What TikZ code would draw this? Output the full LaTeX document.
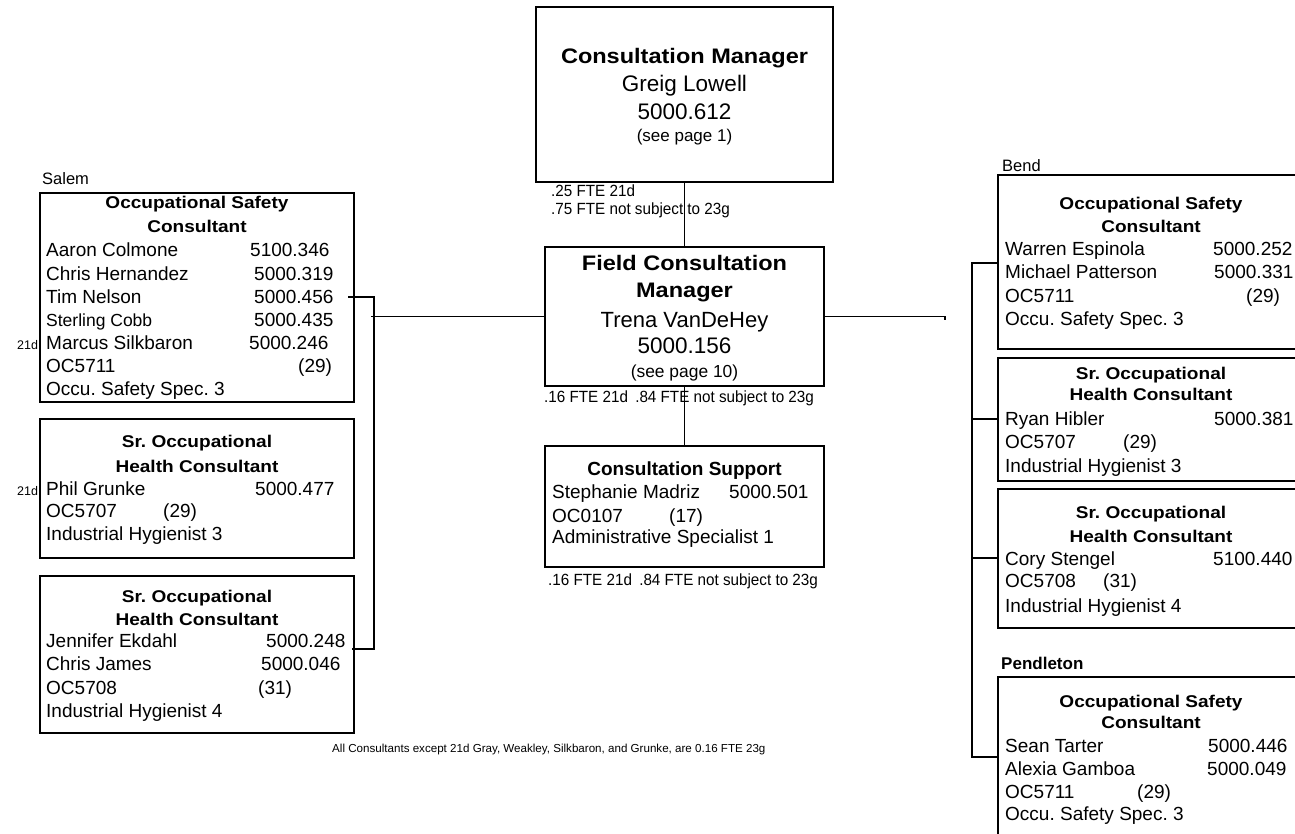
\documentclass[tikz,border=0pt]{standalone}
\usepackage{fontspec}
\setmainfont{Liberation Sans}
% slightly widened face for the bold box headings, slightly narrowed one for the FTE notes
\newfontfamily\widehead[FakeStretch=1.12]{Liberation Sans}
\newfontfamily\narrownote[FakeStretch=0.94]{Liberation Sans}
\newcommand\myfs[1]{\fontsize{#1pt}{#1pt}\selectfont}
\frenchspacing
\tikzset{
  orgbox/.style={draw, line width=1.5pt, rectangle, inner sep=0pt, outer sep=0pt, anchor=north west},
  lbl/.style={anchor=base west, inner sep=0pt, font=\myfs{19}},
  ttl/.style={anchor=base, inner sep=0pt, font=\widehead\myfs{17}\bfseries},
  note/.style={anchor=base west, inner sep=0pt, font=\narrownote\myfs{16.2}},
  mid/.style={anchor=base, inner sep=0pt},
  wire/.style={line width=1.3pt},
}
\begin{document}
\begin{tikzpicture}[x=1pt,y=-1pt]
\useasboundingbox (0,0) rectangle (1295,834);
\fill[white] (0,0) rectangle (1295,834);
\clip (0,0) rectangle (1295,834);

% ---------- centre column ----------
\node[orgbox, minimum width=297pt, minimum height=175pt] (top) at (536,7) {};
\node[mid, font=\widehead\myfs{21}\bfseries] (topa) at (684.5,64) {Consultation Manager};
\node[mid, font=\myfs{22.5}] (topb) at (684.5,92) {Greig Lowell};
\node[mid, font=\myfs{22.5}] (topc) at (684.5,120) {5000.612};
\node[mid, font=\myfs{17}] (topd) at (684.5,142) {(see page 1)};
\node[note] (topn1) at (551,197) {.25 FTE 21d};
\node[note] (topn2) at (551,215) {.75 FTE not subject to 23g};

\node[orgbox, minimum width=279pt, minimum height=139pt] (field) at (545,247) {};
\node[mid, font=\widehead\myfs{21}\bfseries] (fa) at (684.5,270) {Field Consultation};
\node[mid, font=\widehead\myfs{21}\bfseries] (fb) at (684.5,298) {Manager};
\node[mid, font=\myfs{22}] (fc) at (684.5,327) {Trena VanDeHey};
\node[mid, font=\myfs{22.5}] (fd) at (684.5,353) {5000.156};
\node[mid, font=\myfs{17.4}] (fe) at (684.5,377) {(see page 10)};
\node[note] (fn) at (544,402) {.16 FTE 21d\hspace{0.45em}.84 FTE not subject to 23g};

\node[orgbox, minimum width=279pt, minimum height=121pt] (support) at (545,446) {};
\node[mid, font=\myfs{19}\bfseries] (sa) at (684.5,475) {Consultation Support};
\node[lbl] (sb) at (552,498) {Stephanie Madriz};
\node[lbl] (sbv) at (729,498) {5000.501};
\node[lbl] (sc) at (552,522) {OC0107};
\node[lbl] (scv) at (669,522) {(17)};
\node[lbl] (sd) at (552,543) {Administrative Specialist 1};
\node[note] (sn) at (548,585) {.16 FTE 21d\hspace{0.45em}.84 FTE not subject to 23g};

\draw[wire] (top.south) -- (field.north);
\draw[wire] (field.south) -- (support.north);

% ---------- Salem ----------
\node[lbl, font=\myfs{16.5}] (salem) at (42,185) {Salem};
\node[orgbox, minimum width=314pt, minimum height=209pt] (l1) at (40,193) {};
\node[ttl] (l1a) at (197,209) {Occupational Safety};
\node[ttl] (l1b) at (197,233) {Consultant};
\node[lbl] (l1r1) at (46,257) {Aaron Colmone};      \node[lbl] (l1v1) at (250,257) {5100.346};
\node[lbl] (l1r2) at (46,280) {Chris Hernandez};    \node[lbl] (l1v2) at (254,280) {5000.319};
\node[lbl] (l1r3) at (46,303) {Tim Nelson};         \node[lbl] (l1v3) at (254,303) {5000.456};
\node[lbl, font=\myfs{17.5}] (l1r4) at (46,326) {Sterling Cobb}; \node[lbl] (l1v4) at (254,326) {5000.435};
\node[lbl] (l1r5) at (46,349) {Marcus Silkbaron};   \node[lbl] (l1v5) at (249,349) {5000.246};
\node[lbl] (l1r6) at (46,372) {OC5711};             \node[lbl] (l1v6) at (298,372) {(29)};
\node[lbl] (l1r7) at (46,395) {Occu. Safety Spec. 3};
\node[lbl, font=\myfs{12.5}] (l1d) at (17,349) {21d};

\node[orgbox, minimum width=314pt, minimum height=139pt] (l2) at (40,419) {};
\node[ttl] (l2a) at (197,447) {Sr. Occupational};
\node[ttl] (l2b) at (197,472) {Health Consultant};
\node[lbl] (l2r1) at (46,495) {Phil Grunke};        \node[lbl] (l2v1) at (255,495) {5000.477};
\node[lbl] (l2r2) at (46,517) {OC5707};             \node[lbl] (l2v2) at (163,517) {(29)};
\node[lbl] (l2r3) at (46,540) {Industrial Hygienist 3};
\node[lbl, font=\myfs{12.5}] (l2d) at (17,495) {21d};

\node[orgbox, minimum width=314pt, minimum height=157pt] (l3) at (40,576) {};
\node[ttl] (l3a) at (197,602) {Sr. Occupational};
\node[ttl] (l3b) at (197,625) {Health Consultant};
\node[lbl] (l3r1) at (46,647) {Jennifer Ekdahl};    \node[lbl] (l3v1) at (266,647) {5000.248};
\node[lbl] (l3r2) at (46,670) {Chris James};        \node[lbl] (l3v2) at (261,670) {5000.046};
\node[lbl] (l3r3) at (46,694) {OC5708};             \node[lbl] (l3v3) at (258,694) {(31)};
\node[lbl] (l3r4) at (46,717) {Industrial Hygienist 4};

% Salem connector
\coordinate (ltop) at (348,297);
\coordinate (lbot) at (352,649);
\coordinate (lbus) at (374,649);
\coordinate (lbr) at (371,316.5);
\draw[wire] (ltop) -| (lbus) -- (lbot);
\draw[wire] (field.west) -- (lbr);

% ---------- Bend ----------
\node[lbl, font=\myfs{16.5}] (bend) at (1002,172) {Bend};
\node[orgbox, minimum width=308pt, minimum height=174pt] (r1) at (998,175) {};
\node[ttl] (r1a) at (1151,210) {Occupational Safety};
\node[ttl] (r1b) at (1151,233) {Consultant};
\node[lbl] (r1r1) at (1005,255) {Warren Espinola};   \node[lbl] (r1v1) at (1213,255) {5000.252};
\node[lbl] (r1r2) at (1005,278) {Michael Patterson}; \node[lbl] (r1v2) at (1214,278) {5000.331};
\node[lbl] (r1r3) at (1005,302) {OC5711};            \node[lbl] (r1v3) at (1246,302) {(29)};
\node[lbl] (r1r4) at (1005,325) {Occu. Safety Spec. 3};

\node[orgbox, minimum width=308pt, minimum height=123pt] (r2) at (998,358) {};
\node[ttl] (r2a) at (1151,379) {Sr. Occupational};
\node[ttl] (r2b) at (1151,400) {Health Consultant};
\node[lbl] (r2r1) at (1005,425) {Ryan Hibler};       \node[lbl] (r2v1) at (1214,425) {5000.381};
\node[lbl] (r2r2) at (1005,448) {OC5707};            \node[lbl] (r2v2) at (1123,448) {(29)};
\node[lbl] (r2r3) at (1005,472) {Industrial Hygienist 3};

\node[orgbox, minimum width=308pt, minimum height=139pt] (r3) at (998,489) {};
\node[ttl] (r3a) at (1151,518) {Sr. Occupational};
\node[ttl] (r3b) at (1151,542) {Health Consultant};
\node[lbl] (r3r1) at (1005,565) {Cory Stengel};      \node[lbl] (r3v1) at (1213,565) {5100.440};
\node[lbl] (r3r2) at (1005,587) {OC5708};            \node[lbl] (r3v2) at (1103,587) {(31)};
\node[lbl] (r3r3) at (1005,612) {Industrial Hygienist 4};

% ---------- Pendleton ----------
\node[lbl, font=\myfs{17}\bfseries] (pend) at (1001,669) {Pendleton};
\node[orgbox, minimum width=308pt, minimum height=180pt] (r4) at (998,677) {};
\node[ttl] (r4a) at (1151,707) {Occupational Safety};
\node[ttl] (r4b) at (1151,728) {Consultant};
\node[lbl] (r4r1) at (1005,752) {Sean Tarter};       \node[lbl] (r4v1) at (1208,752) {5000.446};
\node[lbl] (r4r2) at (1005,775) {Alexia Gamboa};     \node[lbl] (r4v2) at (1207,775) {5000.049};
\node[lbl] (r4r3) at (1005,798) {OC5711};            \node[lbl] (r4v3) at (1137,798) {(29)};
\node[lbl] (r4r4) at (1005,820) {Occu. Safety Spec. 3};

% right-hand connectors
\coordinate (rstub) at (945,316.5);
\draw[wire] (field.east) -- (rstub) -- ++(0,3);
\coordinate (rb1) at (972,263);
\coordinate (rb2) at (972,419);
\coordinate (rb3) at (972,558);
\coordinate (rb4) at (972,757);
\draw[wire] (r1.west |- rb1) -- (rb1) -- (rb4) -- (r4.west |- rb4);
\draw[wire] (rb2) -- (r2.west |- rb2);
\draw[wire] (rb3) -- (r3.west |- rb3);

% footnote
\node[anchor=base west, inner sep=0pt, font=\myfs{11.6}] (foot) at (332,752)
  {All Consultants except 21d Gray, Weakley, Silkbaron, and Grunke, are 0.16 FTE 23g};
\end{tikzpicture}
\end{document}
